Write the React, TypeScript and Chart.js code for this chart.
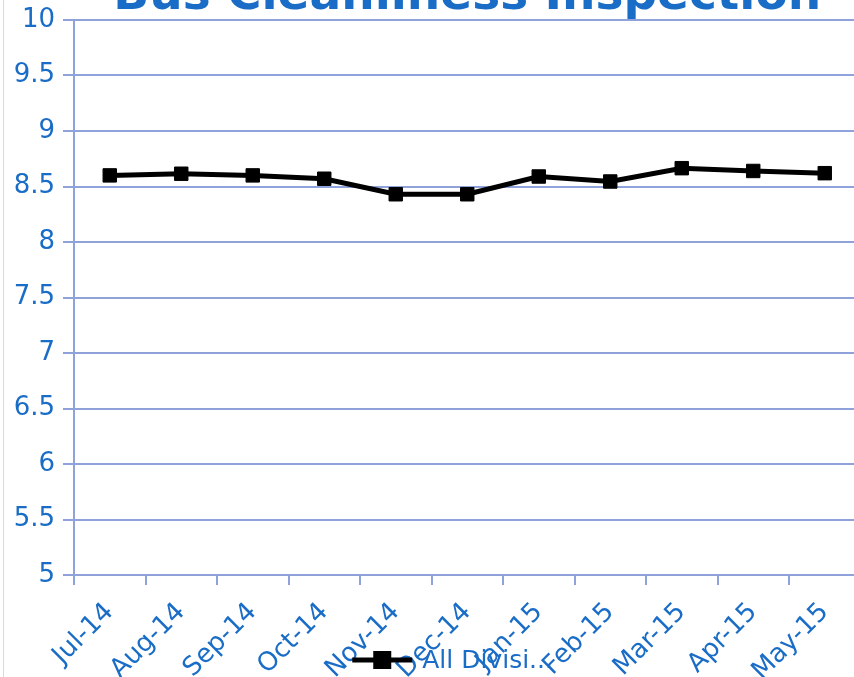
import React, { useEffect, useRef } from "react";
import { Chart, registerables } from "chart.js";

Chart.register(...registerables);

const categories = ["Jul-14", "Aug-14", "Sep-14", "Oct-14", "Nov-14", "Dec-14", "Jan-15", "Feb-15", "Mar-15", "Apr-15", "May-15"];
const allDivisions = [8.6, 8.615, 8.6, 8.57, 8.43, 8.43, 8.59, 8.545, 8.665, 8.64, 8.62];
const seriesLabel = "All Divisi...";
const chartTitle = "Bus Cleanliness Inspection";
const yMin = 5;
const yMax = 10;
const yStep = 0.5;

const BLUE = "#1a6dc6";
const GRID = "#8fa3da";
const FONT = "'DejaVu Sans', sans-serif";

const CANVAS_W = 871;
const CANVAS_H = 712;
const TOP_SHIFT = 27;

const overlapLegend = {
  id: "overlapLegend",
  afterDraw(chart: any) {
    const { ctx, chartArea } = chart;
    const ds = chart.data.datasets[0];
    const cx = (chartArea.left + chartArea.right) / 2;
    const y = chartArea.bottom + 85;
    const x0 = cx - 115;
    ctx.save();
    ctx.strokeStyle = ds.borderColor;
    ctx.lineWidth = 5;
    ctx.beginPath();
    ctx.moveTo(x0, y);
    ctx.lineTo(x0 + 60, y);
    ctx.stroke();
    ctx.fillStyle = ds.pointBackgroundColor;
    ctx.fillRect(x0 + 21, y - 9, 18, 18);
    ctx.font = "25px " + FONT;
    ctx.fillStyle = BLUE;
    ctx.textBaseline = "middle";
    ctx.textAlign = "left";
    ctx.fillText(ds.label, x0 + 70, y + 1);
    ctx.restore();
  },
};

export default function App() {
  const ref = useRef<HTMLCanvasElement | null>(null);

  useEffect(() => {
    if (!ref.current) return;
    const chart = new Chart(ref.current, {
      type: "line",
      data: {
        labels: categories,
        datasets: [
          {
            label: seriesLabel,
            data: allDivisions,
            borderColor: "#000000",
            backgroundColor: "#000000",
            pointBackgroundColor: "#000000",
            pointBorderColor: "#000000",
            borderWidth: 5,
            pointStyle: "rect",
            pointRadius: 9.5,
            pointBorderWidth: 1,
            tension: 0,
          },
        ],
      },
      options: {
        responsive: false,
        animation: false,
        layout: { padding: 0 },
        plugins: {
          legend: { display: false },
          tooltip: { enabled: false },
          title: {
            display: true,
            text: chartTitle,
            color: BLUE,
            fullSize: false,
            padding: { top: 0, bottom: 0 },
            font: { family: FONT, size: 47, weight: "bold", lineHeight: 1.0 },
          },
        },
        scales: {
          x: {
            offset: true,
            grid: {
              offset: true,
              drawOnChartArea: false,
              drawTicks: true,
              tickLength: 10,
              color: GRID,
              lineWidth: 2,
            },
            border: { display: true, color: GRID, width: 2 },
            ticks: {
              color: BLUE,
              font: { family: FONT, size: 26 },
              minRotation: 45,
              maxRotation: 45,
              autoSkip: false,
              padding: 12,
            },
            afterFit(scale: any) {
              scale.height = CANVAS_H - (575 + TOP_SHIFT);
              scale.paddingLeft = 0;
              scale.paddingRight = 0;
            },
          },
          y: {
            min: yMin,
            max: yMax,
            grid: {
              color: GRID,
              lineWidth: 2,
              tickLength: 11,
            },
            border: { display: true, color: GRID, width: 2 },
            ticks: {
              stepSize: yStep,
              color: BLUE,
              font: { family: FONT, size: 26 },
              padding: 8,
              callback: (value: any) => String(value),
            },
            afterFit(scale: any) {
              scale.width = 74;
            },
          },
        },
      },
      plugins: [overlapLegend],
    });
    return () => chart.destroy();
  }, []);

  return (
    <div
      style={{
        position: "fixed",
        left: 0,
        top: 0,
        width: 854,
        height: 677,
        overflow: "hidden",
        background: "#ffffff",
      }}
    >
      <div
        style={{
          position: "absolute",
          left: 3,
          top: 0,
          width: 1,
          height: 677,
          background: "#d9d9d9",
        }}
      />
      <canvas
        ref={ref}
        width={CANVAS_W}
        height={CANVAS_H}
        style={{ position: "absolute", left: 0, top: -TOP_SHIFT, width: CANVAS_W, height: CANVAS_H }}
      />
    </div>
  );
}
